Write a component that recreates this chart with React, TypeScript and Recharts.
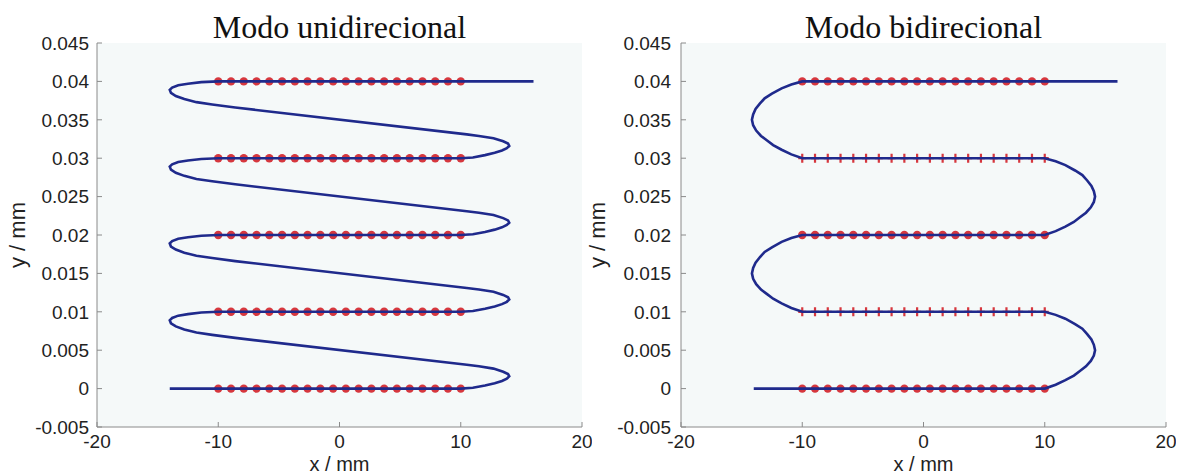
import { ScatterChart, Scatter, XAxis, YAxis, CartesianGrid } from 'recharts'

// marker positions along each scan row (20 points, -10..10 mm)
const markerX = [-10, -8.947, -7.895, -6.842, -5.789, -4.737, -3.684, -2.632, -1.579, -0.526, 0.526, 1.579, 2.632, 3.684, 4.737, 5.789, 6.842, 7.895, 8.947, 10]
const uniRows = [0, 0.01, 0.02, 0.03, 0.04]
const biCircleRows = [0, 0.02, 0.04]
const biPlusRows = [0.01, 0.03]

const xTicks = [-20, -10, 0, 10, 20]
const yTicks = [-0.005, 0, 0.005, 0.01, 0.015, 0.02, 0.025, 0.03, 0.035, 0.04, 0.045]

// scan path, unidirectional mode
const uniPath: [number, number][] = [
  [-14, 0], [10, 0],
  [11, 0.0001], [12, 0.0004], [12.8, 0.0007], [13.4, 0.001], [13.8, 0.0013], [14.0, 0.0016], [13.9, 0.0019], [13.5, 0.0022], [12.7, 0.0026], [11.5, 0.0029], [10.5, 0.0031],
  [-8.6, 0.0066], [-10.5, 0.007], [-11.8, 0.0073], [-12.8, 0.0077], [-13.5, 0.0081], [-13.9, 0.0085], [-14.0, 0.0089], [-13.8, 0.0092], [-13.3, 0.0095], [-12.5, 0.0097], [-11.4, 0.0099], [-10, 0.01],
  [10, 0.01],
  [11, 0.0101], [12, 0.0104], [12.8, 0.0107], [13.4, 0.011], [13.8, 0.0113], [14.0, 0.0116], [13.9, 0.0119], [13.5, 0.0122], [12.7, 0.0126], [11.5, 0.0129], [10.5, 0.0131],
  [-8.6, 0.0166], [-10.5, 0.017], [-11.8, 0.0173], [-12.8, 0.0177], [-13.5, 0.0181], [-13.9, 0.0185], [-14.0, 0.0189], [-13.8, 0.0192], [-13.3, 0.0195], [-12.5, 0.0197], [-11.4, 0.0199], [-10, 0.02],
  [10, 0.02],
  [11, 0.0201], [12, 0.0204], [12.8, 0.0207], [13.4, 0.021], [13.8, 0.0213], [14.0, 0.0216], [13.9, 0.0219], [13.5, 0.0222], [12.7, 0.0226], [11.5, 0.0229], [10.5, 0.0231],
  [-8.6, 0.0266], [-10.5, 0.027], [-11.8, 0.0273], [-12.8, 0.0277], [-13.5, 0.0281], [-13.9, 0.0285], [-14.0, 0.0289], [-13.8, 0.0292], [-13.3, 0.0295], [-12.5, 0.0297], [-11.4, 0.0299], [-10, 0.03],
  [10, 0.03],
  [11, 0.0301], [12, 0.0304], [12.8, 0.0307], [13.4, 0.031], [13.8, 0.0313], [14.0, 0.0316], [13.9, 0.0319], [13.5, 0.0322], [12.7, 0.0326], [11.5, 0.0329], [10.5, 0.0331],
  [-8.6, 0.0366], [-10.5, 0.037], [-11.8, 0.0373], [-12.8, 0.0377], [-13.5, 0.0381], [-13.9, 0.0385], [-14.0, 0.0389], [-13.8, 0.0392], [-13.3, 0.0395], [-12.5, 0.0397], [-11.4, 0.0399], [-10, 0.04],
  [16, 0.04],
]

// scan path, bidirectional mode
const biPath: [number, number][] = [
  [-14, 0], [10, 0],
  [10.9, 0.0005], [11.7, 0.0011], [12.4, 0.0017], [12.9, 0.0023], [13.4, 0.0029], [13.8, 0.0036], [14.05, 0.0043], [14.15, 0.005],
  [14.05, 0.0057], [13.85, 0.0064], [13.5, 0.0071], [13.1, 0.0078], [12.5, 0.0084], [11.7, 0.0091], [10.9, 0.0096], [10, 0.01],
  [-10, 0.01],
  [-10.9, 0.0105], [-11.7, 0.0111], [-12.4, 0.0117], [-12.9, 0.0123], [-13.4, 0.0129], [-13.8, 0.0136], [-14.05, 0.0143], [-14.15, 0.015],
  [-14.05, 0.0157], [-13.85, 0.0164], [-13.5, 0.0171], [-13.1, 0.0178], [-12.5, 0.0184], [-11.7, 0.0191], [-10.9, 0.0196], [-10, 0.02],
  [10, 0.02],
  [10.9, 0.0205], [11.7, 0.0211], [12.4, 0.0217], [12.9, 0.0223], [13.4, 0.0229], [13.8, 0.0236], [14.05, 0.0243], [14.15, 0.025],
  [14.05, 0.0257], [13.85, 0.0264], [13.5, 0.0271], [13.1, 0.0278], [12.5, 0.0284], [11.7, 0.0291], [10.9, 0.0296], [10, 0.03],
  [-10, 0.03],
  [-10.9, 0.0305], [-11.7, 0.0311], [-12.4, 0.0317], [-12.9, 0.0323], [-13.4, 0.0329], [-13.8, 0.0336], [-14.05, 0.0343], [-14.15, 0.035],
  [-14.05, 0.0357], [-13.85, 0.0364], [-13.5, 0.0371], [-13.1, 0.0378], [-12.5, 0.0384], [-11.7, 0.0391], [-10.9, 0.0396], [-10, 0.04],
  [16, 0.04],
]

const toPts = (p: [number, number][]) => p.map(([x, y]) => ({ x, y }))
const grid = (rows: number[]) => rows.flatMap(y => markerX.map(x => ({ x, y })))

const LINE = '#1f2a8c'
const RED = '#d6373e'
const AXIS = '#8a8a8a'
const tickFont = { fontFamily: 'Liberation Sans, Arial, sans-serif', fontSize: 19, fill: '#222' }

const circle = (p: any) => <circle cx={p.cx} cy={p.cy} r={4.2} fill={RED} />
const plus = (p: any) => (
  <path d={`M${p.cx - 4},${p.cy}H${p.cx + 4}M${p.cx},${p.cy - 4.5}V${p.cy + 4.5}`} stroke={RED} strokeWidth={2.2} fill="none" />
)
const none = () => <g />

function Panel({ left, yWidth, title, path, circles, pluses }: {
  left: number; yWidth: number; title: string
  path: { x: number; y: number }[]; circles: { x: number; y: number }[]; pluses: { x: number; y: number }[]
}) {
  const plotLeft = left + yWidth
  const plotW = 485
  return (
    <>
      <div style={{ position: 'absolute', left: plotLeft, top: 11, width: plotW, textAlign: 'center', fontFamily: 'Liberation Serif, serif', fontSize: 32, lineHeight: '32px', color: '#111' }}>
        {title}
      </div>
      <div style={{ position: 'absolute', left: plotLeft, top: 455, width: plotW, textAlign: 'center', fontFamily: 'Liberation Sans, Arial, sans-serif', fontSize: 20, lineHeight: '18px', color: '#222' }}>
        x / mm
      </div>
      <div style={{ position: 'absolute', left: left - 42, top: 224, width: 120, textAlign: 'center', fontFamily: 'Liberation Sans, Arial, sans-serif', fontSize: 22, lineHeight: '22px', color: '#222', transform: 'rotate(-90deg)' }}>
        y / mm
      </div>
      <div style={{ position: 'absolute', left, top: 0 }}>
        <ScatterChart width={yWidth + plotW + 10} height={476} margin={{ top: 43, right: 10, bottom: 0, left: 0 }}>
          <CartesianGrid fill="#f5f9f9" horizontal={false} vertical={false} />
          <XAxis xAxisId="b" type="number" dataKey="x" domain={[-20, 20]} ticks={xTicks} height={49}
            allowDataOverflow stroke={AXIS} tickSize={-5} tickMargin={13} tick={tickFont} />
          <XAxis xAxisId="t" orientation="top" type="number" dataKey="x" domain={[-20, 20]} ticks={xTicks} height={0}
            allowDataOverflow stroke={AXIS} tickSize={-5} tickFormatter={() => ''} />
          <YAxis yAxisId="l" type="number" dataKey="y" domain={[-0.005, 0.045]} ticks={yTicks} width={yWidth}
            allowDataOverflow stroke={AXIS} tickSize={-5} tickMargin={yWidth > 98 ? 15 : 13} tick={tickFont}
            tickFormatter={(v: number) => String(v)} />
          <YAxis yAxisId="r" orientation="right" type="number" dataKey="y" domain={[-0.005, 0.045]} ticks={yTicks} width={0}
            allowDataOverflow stroke={AXIS} tickSize={-5} tickFormatter={() => ''} />
          <Scatter xAxisId="b" yAxisId="l" data={circles} shape={circle} isAnimationActive={false} />
          <Scatter xAxisId="b" yAxisId="l" data={pluses} shape={plus} isAnimationActive={false} />
          <Scatter xAxisId="b" yAxisId="l" data={path} shape={none} line={{ stroke: LINE, strokeWidth: 2.6 }}
            lineType="joint" isAnimationActive={false} />
        </ScatterChart>
      </div>
    </>
  )
}

export default function App() {
  return (
    <div style={{ position: 'absolute', left: 0, top: 0, width: 1180, height: 476, background: '#fff', overflow: 'hidden' }}>
      <Panel left={0} yWidth={97} title="Modo unidirecional" path={toPts(uniPath)} circles={grid(uniRows)} pluses={[]} />
      <Panel left={580} yWidth={101} title="Modo bidirecional" path={toPts(biPath)} circles={grid(biCircleRows)} pluses={grid(biPlusRows)} />
    </div>
  )
}
